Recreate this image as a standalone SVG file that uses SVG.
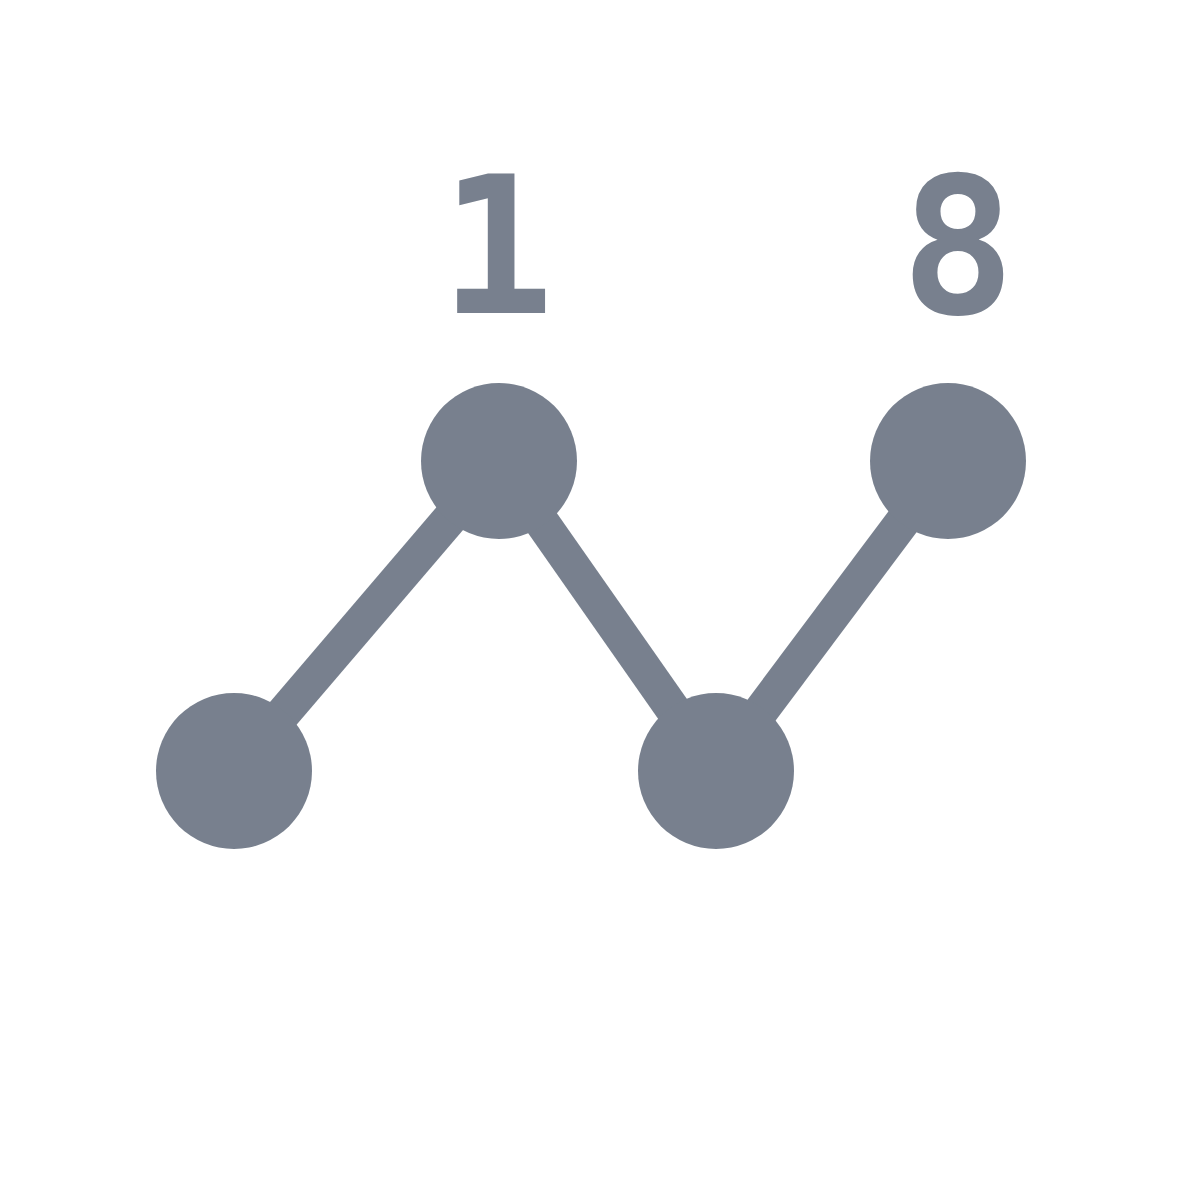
<svg xmlns="http://www.w3.org/2000/svg" width="1182" height="1182" viewBox="0 0 1182 1182">
<style>
.edge{stroke:#78808e;stroke-width:35;fill:none}
.node{fill:#78808e}
.lbl{font-family:"DejaVu Sans Mono","Liberation Mono",monospace;font-weight:bold;font-size:190px;fill:#78808e;text-anchor:middle}
</style>
<rect width="1182" height="1182" fill="#ffffff"/>
<g id="connectors">
<line class="edge" x1="234" y1="771" x2="499" y2="461"/>
<line class="edge" x1="499" y1="461" x2="716" y2="771"/>
<line class="edge" x1="716" y1="771" x2="948" y2="461"/>
</g>
<g id="n1"><circle class="node" cx="234" cy="771" r="78"/></g>
<g id="n2"><circle class="node" cx="499" cy="461" r="78"/></g>
<g id="n3"><circle class="node" cx="716" cy="771" r="78"/></g>
<g id="n4"><circle class="node" cx="948" cy="461" r="78"/></g>
<g id="labels">
<text class="lbl" x="497" y="313">1</text>
<text class="lbl" x="958" y="313">8</text>
</g>
</svg>
